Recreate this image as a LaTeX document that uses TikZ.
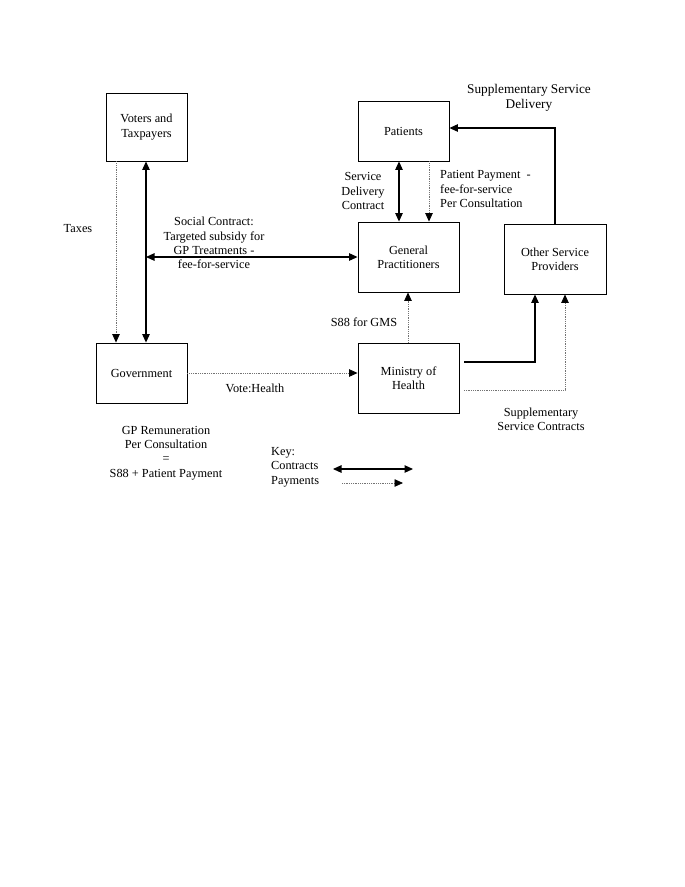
\documentclass[tikz,border=0pt]{standalone}
\usepackage{fontspec}
\setmainfont{Liberation Serif}
\usetikzlibrary{arrows.meta}
\begin{document}
\begin{tikzpicture}[x=1pt,y=-1pt,
  font=\fontsize{12.3}{14.3}\selectfont,
  box/.style={draw=black, line width=0.9pt, inner sep=2pt, align=center},
  con/.style={draw=black, line width=1.1pt, {Triangle[length=8.5pt,width=7.5pt]}-{Triangle[length=8.5pt,width=7.5pt]}},
  conone/.style={draw=black, line width=1.1pt, -{Triangle[length=8.5pt,width=7.5pt]}},
  pay/.style={draw=black!55, line width=0.8pt, densely dotted, -{Triangle[length=8.5pt,width=7.5pt,color=black,fill=black]}},
  lbl/.style={align=center, inner sep=0pt}
]
\useasboundingbox (0,0) rectangle (685,887);
\fill[white] (0,0) rectangle (685,887);

% boxes
\node[box, minimum width=81pt, minimum height=68pt] (V) at (146.5,127) {Voters and\\Taxpayers};
\node[box, minimum width=91pt, minimum height=60pt] (P) at (403.5,131) {Patients};
\node[box, minimum width=101pt, minimum height=70pt] (GP) at (408.5,257) {General\\Practitioners};
\node[box, minimum width=102pt, minimum height=70pt] (O) at (555,259) {Other Service\\Providers};
\node[box, minimum width=91pt, minimum height=60pt] (G) at (141.5,373) {Government};
\node[box, minimum width=101pt, minimum height=70pt] (M) at (408.5,378) {Ministry of\\Health};

% helper coordinates
\coordinate (tx) at (116,0);
\coordinate (cx) at (146,0);
\coordinate (sdx) at (399,0);
\coordinate (ppx) at (429,0);
\coordinate (s88x) at (408,0);
\coordinate (m1) at (464,362);
\coordinate (m2) at (464,390);
\coordinate (o1) at (535,0);
\coordinate (o2) at (565,0);
\coordinate (k1) at (333,469);
\coordinate (k2) at (413,469);
\coordinate (k3) at (342,483);
\coordinate (k4) at (403,483);

% connectors
\draw[pay] (V.south -| tx) -- (G.north -| tx);
\draw[con] (V.south -| cx) -- (G.north -| cx);
\draw[con] (cx |- GP.west) -- (GP.west);
\draw[con] (P.south -| sdx) -- (GP.north -| sdx);
\draw[pay] (P.south -| ppx) -- (GP.north -| ppx);
\draw[conone] (O.north) |- ([yshift=3pt]P.east);
\draw[pay] (M.north -| s88x) -- (GP.south -| s88x);
\draw[pay] (G.east) -- (G.east -| M.west);
\draw[conone] (m1) -| (o1 |- O.south);
\draw[pay] (m2) -| (o2 |- O.south);
\draw[con] (k1) -- (k2);
\draw[pay] (k3) -- (k4);

% labels
\node[lbl] (taxes) at (78,229) {Taxes};
\node[lbl] (social) at (214,243) {Social Contract:\\Targeted subsidy for\\GP Treatments -\\fee-for-service};
\node[lbl] (sdc) at (363,191) {Service\\Delivery\\Contract};
\node[lbl, align=left, anchor=west] (ppay) at (440,189) {Patient Payment\ \ -\\fee-for-service\\Per Consultation};
\node[lbl, font=\fontsize{13.3}{15}\selectfont] (ssd) at (529,98) {Supplementary Service\\Delivery};
\node[lbl] (s88) at (364,322) {S88 for GMS};
\node[lbl] (vote) at (255,388) {Vote:Health};
\node[lbl] (ssc) at (541,419) {Supplementary\\Service Contracts};
\node[lbl] (rem) at (166,453) {GP Remuneration\\Per Consultation\\=\\S88 + Patient Payment};
\node[lbl, align=left, anchor=west] (key) at (271,467) {Key:\\Contracts\\Payments};
\end{tikzpicture}
\end{document}
